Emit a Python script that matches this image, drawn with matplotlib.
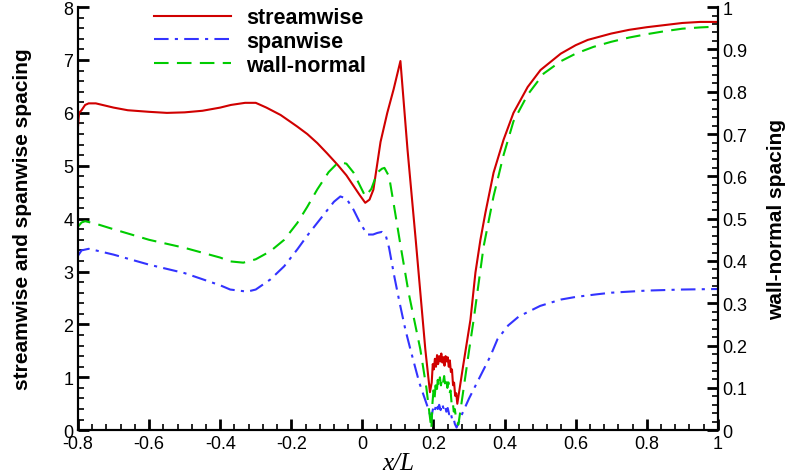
import numpy as np
import matplotlib
matplotlib.use('Agg')
import matplotlib.pyplot as plt
from matplotlib.ticker import MultipleLocator

plt.rcParams['font.family'] = ['Liberation Sans', 'DejaVu Sans']

# streamwise spacing (left axis)
red_x = [-0.8, -0.797, -0.79, -0.78, -0.77, -0.75, -0.7, -0.66, -0.6, -0.55, -0.5, -0.45,
         -0.4, -0.37, -0.33, -0.3, -0.27, -0.23, -0.2, -0.183, -0.155, -0.127, -0.1, -0.07,
         -0.045, -0.025, -0.008, 0.008, 0.02, 0.031, 0.051, 0.07, 0.088, 0.107, 0.127, 0.15,
         0.177, 0.19, 0.195, 0.198, 0.201, 0.204, 0.207, 0.21, 0.213, 0.216, 0.219, 0.222,
         0.225, 0.228, 0.231, 0.234, 0.237, 0.24, 0.243, 0.246, 0.249, 0.252, 0.255, 0.258,
         0.261, 0.264, 0.267, 0.283, 0.304, 0.318, 0.332, 0.346, 0.369, 0.397, 0.425, 0.465,
         0.501, 0.558, 0.6, 0.634, 0.7, 0.75, 0.8, 0.85, 0.9, 0.95, 1.0]
red_y = [5.75, 6.0, 6.05, 6.15, 6.18, 6.18, 6.1, 6.05, 6.02, 6.0, 6.01, 6.04,
         6.1, 6.15, 6.19, 6.19, 6.1, 5.96, 5.82, 5.74, 5.6, 5.43, 5.24, 5.02,
         4.82, 4.62, 4.45, 4.3, 4.36, 4.55, 5.45, 6.0, 6.45, 6.98, 5.3, 3.6,
         1.53, 0.72, 0.9, 1.25, 1.15, 1.35, 1.2, 1.42, 1.25, 1.4, 1.3, 1.45,
         1.28, 1.38, 1.22, 1.4, 1.3, 1.38, 1.2, 1.32, 1.1, 1.15, 0.85, 0.9,
         0.65, 0.7, 0.5, 1.2, 2.09, 2.98, 3.6, 4.11, 4.87, 5.49, 6.0, 6.49,
         6.81, 7.12, 7.28, 7.38, 7.5, 7.57, 7.62, 7.66, 7.7, 7.72, 7.72]

# spanwise spacing (left axis)
blue_x = [-0.8, -0.79, -0.77, -0.75, -0.7, -0.6, -0.5, -0.4, -0.372, -0.324, -0.3, -0.259,
          -0.22, -0.183, -0.155, -0.127, -0.1, -0.08, -0.062, -0.045, -0.025, -0.005, 0.014,
          0.03, 0.042, 0.055, 0.065, 0.075, 0.09, 0.105, 0.121, 0.135, 0.16, 0.183, 0.19,
          0.193, 0.197, 0.2, 0.204, 0.208, 0.212, 0.216, 0.22, 0.224, 0.228, 0.232, 0.236,
          0.24, 0.244, 0.248, 0.252, 0.256, 0.26, 0.265, 0.28, 0.3, 0.33, 0.36, 0.38, 0.41,
          0.44, 0.5, 0.558, 0.6, 0.66, 0.7, 0.8, 0.9, 1.0]
blue_y = [3.3, 3.4, 3.43, 3.4, 3.32, 3.13, 2.97, 2.74, 2.66, 2.62, 2.66, 2.85,
          3.1, 3.42, 3.68, 3.92, 4.15, 4.32, 4.42, 4.38, 4.17, 3.9, 3.7,
          3.7, 3.73, 3.75, 3.7, 3.45, 2.9, 2.4, 1.9, 1.53, 0.9, 0.45, 0.3,
          0.15, 0.35, 0.45, 0.38, 0.5, 0.4, 0.48, 0.38, 0.5, 0.42, 0.48, 0.35,
          0.42, 0.3, 0.35, 0.22, 0.25, 0.12, 0.05, 0.3, 0.6, 1.0, 1.4, 1.72, 1.98,
          2.15, 2.35, 2.47, 2.52, 2.57, 2.6, 2.64, 2.66, 2.67]

# wall-normal spacing (right axis)
green_x = [-0.8, -0.79, -0.78, -0.75, -0.7, -0.6, -0.5, -0.4, -0.372, -0.335, -0.3, -0.259,
           -0.22, -0.183, -0.155, -0.127, -0.095, -0.075, -0.062, -0.045, -0.025, -0.008,
           0.008, 0.025, 0.042, 0.055, 0.062, 0.075, 0.09, 0.107, 0.13, 0.163, 0.18, 0.194,
           0.197, 0.2, 0.203, 0.206, 0.209, 0.212, 0.215, 0.218, 0.221, 0.224, 0.227, 0.23,
           0.233, 0.236, 0.239, 0.242, 0.245, 0.248, 0.251, 0.254, 0.257, 0.26, 0.264, 0.27,
           0.285, 0.3, 0.313, 0.341, 0.369, 0.397, 0.425, 0.465, 0.51, 0.558, 0.6, 0.65,
           0.7, 0.75, 0.8, 0.85, 0.9, 0.95, 1.0]
green_y = [0.481, 0.491, 0.494, 0.488, 0.475, 0.45, 0.431, 0.408, 0.399, 0.396, 0.404, 0.423,
           0.45, 0.49, 0.528, 0.569, 0.61, 0.627, 0.633, 0.63, 0.609, 0.58,
           0.553, 0.57, 0.609, 0.618, 0.62, 0.6, 0.525, 0.438, 0.325, 0.191, 0.1, 0.003,
           0.063, 0.094, 0.075, 0.106, 0.088, 0.119, 0.103, 0.125, 0.106, 0.123, 0.113, 0.128,
           0.106, 0.119, 0.1, 0.113, 0.088, 0.094, 0.063, 0.069, 0.044, 0.05, 0.025, 0.013,
           0.1, 0.188, 0.261, 0.434, 0.553, 0.65, 0.73, 0.793, 0.843, 0.872, 0.89, 0.906,
           0.918, 0.928, 0.936, 0.943, 0.949, 0.952, 0.954]

fig = plt.figure(figsize=(7.88, 4.77), dpi=100)
ax = fig.add_axes([0.099, 0.096, 0.812, 0.887])
ax2 = ax.twinx()

l1, = ax.plot(red_x, red_y, color='#d00000', lw=1.5, label='streamwise')
l2, = ax.plot(blue_x, blue_y, color='#3333ff', lw=1.5, ls=(0, (7, 3, 1.5, 3)), label='spanwise')
l3, = ax2.plot(green_x, green_y, color='#00cc00', lw=1.5, ls=(0, (7, 4)), label='wall-normal')

ax.set_xlim(-0.8, 1)
ax.set_ylim(0, 8)
ax2.set_ylim(0, 1)

ax.xaxis.set_major_locator(MultipleLocator(0.2))
ax.xaxis.set_minor_locator(MultipleLocator(0.04))
ax.yaxis.set_major_locator(MultipleLocator(1))
ax.yaxis.set_minor_locator(MultipleLocator(0.2))
ax2.yaxis.set_major_locator(MultipleLocator(0.1))
ax2.yaxis.set_minor_locator(MultipleLocator(0.02))
ax.xaxis.set_major_formatter(plt.FuncFormatter(lambda v, p: '%g' % round(v, 2)))
ax2.yaxis.set_major_formatter(plt.FuncFormatter(lambda v, p: '%g' % round(v, 2)))

for a in (ax, ax2):
    a.spines['top'].set_visible(False)
    for s in a.spines.values():
        s.set_linewidth(1.5)
ax.tick_params(which='both', direction='in', labelsize=13, width=1.2)
ax.tick_params(which='major', length=8, width=2)
ax.tick_params(which='minor', length=4)
ax.tick_params(axis='y', right=False)
ax.tick_params(axis='x', top=False)
ax2.tick_params(which='both', direction='in', labelsize=13, width=1.2)
ax2.tick_params(which='major', length=8, width=2)
ax2.tick_params(which='minor', length=4)

ax.set_xlabel('x/L', family='Liberation Serif', style='italic', fontsize=18, labelpad=0)
ax.set_ylabel('streamwise and spanwise spacing', fontsize=15, fontweight='bold', labelpad=22)
ax2.set_ylabel('wall-normal spacing', fontsize=15, fontweight='bold', labelpad=14)

leg = ax.legend(handles=[l1, l2, l3], loc='upper left', bbox_to_anchor=(0.088, 1.045),
                frameon=False, prop={'size': 15.5, 'weight': 'bold'}, handlelength=3.6,
                handletextpad=0.7, labelspacing=0.12)

fig.savefig('out.png', dpi=100)
